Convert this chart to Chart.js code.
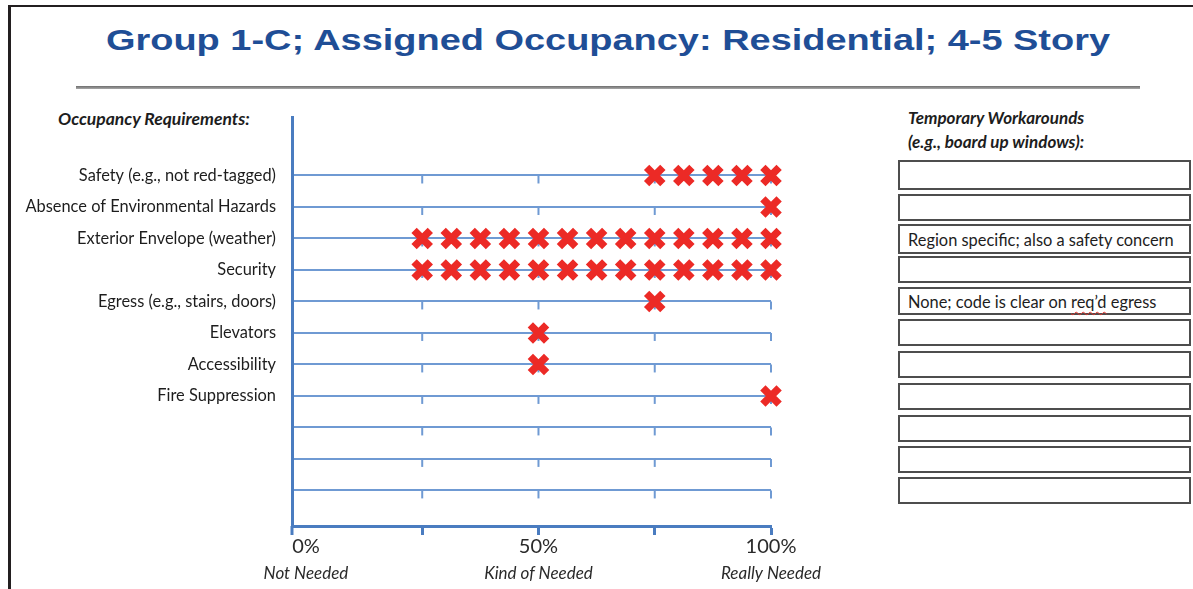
<!DOCTYPE html>
<html>
<head>
<meta charset="utf-8">
<script src="https://cdn.jsdelivr.net/npm/chart.js@4/dist/chart.umd.min.js"></script>
<style>
html,body{margin:0;padding:0;background:#fff;}
body{width:1193px;height:589px;position:relative;overflow:hidden;font-family:Lato,'Open Sans',sans-serif;color:#1d1d1d;}
#frameTop{position:absolute;left:8px;top:5px;width:1185px;height:2px;background:#231f20;}
#frameLeft{position:absolute;left:8px;top:5px;width:3px;height:584px;background:#231f20;}
#title{position:absolute;left:608px;top:25px;font:bold 30px/30px 'Liberation Sans',Arial,sans-serif;color:#1f4e96;white-space:nowrap;transform-origin:0 0;}
#rule{position:absolute;left:76px;top:86px;width:1064px;height:3px;background:linear-gradient(#6e6e6e,#a8a8a8);}
#leftHead{position:absolute;left:58px;top:109px;font:italic bold 17.5px/20px Lato,sans-serif;white-space:nowrap;}
#rightHead{position:absolute;left:908px;top:106px;font:italic bold 17px/23.5px Lato,sans-serif;white-space:nowrap;}
#chartBox{position:absolute;left:0;top:0;width:880px;height:589px;}
.box{position:absolute;left:898px;width:293px;border:2px solid #4d4d4d;box-sizing:border-box;display:flex;align-items:center;padding-left:8px;font:16.4px Lato,sans-serif;white-space:nowrap;color:#1d1d1d;}
.spell{text-decoration:underline wavy #e0302a;text-decoration-thickness:1px;text-underline-offset:3px;}
</style>
</head>
<body>
<div id="frameTop"></div>
<div id="frameLeft"></div>
<div id="title">Group 1-C; Assigned Occupancy: Residential; 4-5 Story</div>
<div id="rule"></div>
<div id="leftHead">Occupancy Requirements:</div>
<div id="rightHead">Temporary Workarounds<br>(e.g., board up windows):</div>
<div id="chartBox"><canvas id="c"></canvas></div>
<div id="boxes"></div>
<script>
// ---- data ----
const categories = [
  'Safety (e.g., not red-tagged)',
  'Absence of Environmental Hazards',
  'Exterior Envelope (weather)',
  'Security',
  'Egress (e.g., stairs, doors)',
  'Elevators',
  'Accessibility',
  'Fire Suppression',
  '', '', ''
];
const safetyVotes        = [75, 81.25, 87.5, 93.75, 100];
const hazardsVotes       = [100];
const envelopeVotes      = [25, 31.25, 37.5, 43.75, 50, 56.25, 62.5, 68.75, 75, 81.25, 87.5, 93.75, 100];
const securityVotes      = [25, 31.25, 37.5, 43.75, 50, 56.25, 62.5, 68.75, 75, 81.25, 87.5, 93.75, 100];
const egressVotes        = [75];
const elevatorVotes      = [50];
const accessibilityVotes = [50];
const fireVotes          = [100];
const xTickValues = [0, 25, 50, 75, 100];
const xTickLabels = ['0%', '', '50%', '', '100%'];
const xTickNotes  = ['Not Needed', '', 'Kind of Needed', '', 'Really Needed'];
const workarounds = ['', '', 'Region specific; also a safety concern', '', 'None; code is clear on req\u2019d egress', '', '', '', '', '', ''];

// ---- layout helpers (not data) ----
const boxTops = [160, 194, 224, 256, 287, 319, 351, 383, 415, 446, 477];
const boxHeights = [30, 27, 30, 27, 28, 27, 27, 27, 27, 27, 27];

// title width fit
const t = document.getElementById('title');
const tw = t.offsetWidth;
const k = 1004 / tw;
t.style.transform = 'scaleX(' + k + ') translateX(-50%)';

// workaround boxes
const boxesEl = document.getElementById('boxes');
workarounds.forEach((txt, i) => {
  const d = document.createElement('div');
  d.className = 'box';
  d.style.top = boxTops[i] + 'px';
  d.style.height = boxHeights[i] + 'px';
  const inner = document.createElement('span');
  if (txt.includes('req\u2019d')) {
    const parts = txt.split('req\u2019d');
    inner.append(parts[0]);
    const s = document.createElement('span'); s.className = 'spell'; s.textContent = 'req\u2019d';
    inner.append(s); inner.append(parts[1]);
  } else {
    inner.textContent = txt;
  }
  d.appendChild(inner);
  boxesEl.appendChild(d);
});

// ---- chart ----
const rows = [safetyVotes, hazardsVotes, envelopeVotes, securityVotes, egressVotes, elevatorVotes, accessibilityVotes, fireVotes];
const points = rows.flatMap((vals, i) => vals.map(v => ({x: v, y: i})));

const gridBlue = '#6f9ad3';
const axisBlue = '#4a7cc0';
const markRed = '#ec2a26';

const rowTicks = {
  id: 'rowTicks',
  beforeDatasetsDraw(chart) {
    const {ctx, chartArea} = chart;
    const xs = chart.scales.x, ys = chart.scales.y;
    ctx.save();
    ctx.strokeStyle = gridBlue;
    ctx.lineWidth = 2;
    const px = xs.ticks.filter(tk => tk.value > 0).map(tk => xs.getPixelForValue(tk.value));
    ys.ticks.forEach(tk => {
      const py = ys.getPixelForValue(tk.value);
      px.forEach(p => { ctx.beginPath(); ctx.moveTo(p, py); ctx.lineTo(p, py + 8); ctx.stroke(); });
    });
    ctx.strokeStyle = axisBlue;
    ctx.lineWidth = 3;
    ctx.beginPath();
    ctx.moveTo(chartArea.left, chartArea.bottom);
    ctx.lineTo(chartArea.left, chartArea.bottom + 9);
    ctx.stroke();
    ctx.restore();
  }
};

new Chart(document.getElementById('c'), {
  type: 'scatter',
  data: {
    datasets: [{
      data: points,
      clip: false,
      pointStyle: 'crossRot',
      radius: 11.5,
      hoverRadius: 11.5,
      borderWidth: 7.5,
      hoverBorderWidth: 7.5,
      borderColor: markRed,
      backgroundColor: markRed
    }]
  },
  options: {
    responsive: true,
    maintainAspectRatio: false,
    animation: false,
    devicePixelRatio: 1,
    layout: {padding: {left: 10, top: 117, right: 109, bottom: 0}},
    plugins: {legend: {display: false}, tooltip: {enabled: false}},
    scales: {
      y: {
        type: 'linear',
        reverse: true,
        min: -1.857,
        max: 11.13,
        afterBuildTicks: s => { s.ticks = categories.map((_, i) => ({value: i})); },
        afterFit: s => { s.width = 282; },
        grid: {color: gridBlue, lineWidth: 2, drawTicks: false},
        border: {color: axisBlue, width: 3},
        ticks: {
          padding: 16,
          color: '#1d1d1d',
          font: {family: 'Lato', size: 16.4},
          callback: v => categories[v] || ''
        }
      },
      x: {
        type: 'linear',
        position: 'bottom',
        weight: 0,
        min: -3,
        max: 100,
        afterBuildTicks: s => { s.ticks = xTickValues.map(v => ({value: v})); },
        afterFit: s => { s.height = 37; },
        grid: {
          drawOnChartArea: false,
          drawTicks: true,
          tickLength: 9,
          tickWidth: 3,
          tickColor: c => (c.tick && c.tick.value === 0) ? 'rgba(0,0,0,0)' : axisBlue
        },
        border: {color: axisBlue, width: 3},
        ticks: {
          padding: 0,
          autoSkip: false,
          maxRotation: 0,
          color: '#2a2a2a',
          font: {family: 'Lato', size: 20},
          callback: (v) => xTickLabels[xTickValues.indexOf(v)] || ''
        }
      },
      x2: {
        type: 'linear',
        position: 'bottom',
        weight: 1,
        min: -3,
        max: 100,
        afterBuildTicks: s => { s.ticks = xTickValues.map(v => ({value: v})); },
        afterFit: s => { s.height = 26; },
        grid: {display: false, drawTicks: false},
        border: {display: false},
        ticks: {
          padding: 0,
          autoSkip: false,
          maxRotation: 0,
          color: '#2a2a2a',
          font: {family: 'Lato', size: 17, style: 'italic'},
          callback: (v) => xTickNotes[xTickValues.indexOf(v)] || ''
        }
      }
    }
  },
  plugins: [rowTicks]
});
</script>
</body>
</html>
